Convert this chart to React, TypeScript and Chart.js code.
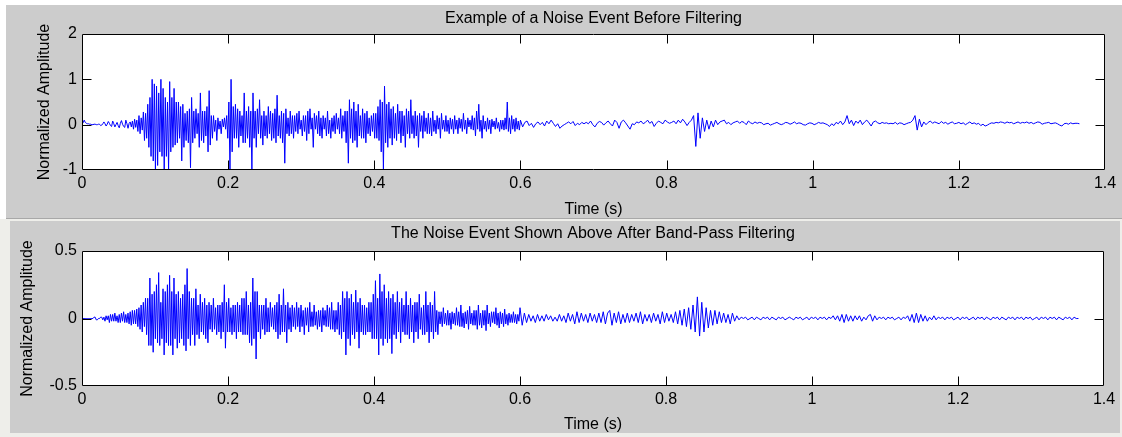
import React, { useEffect, useRef } from 'react';
import { Chart, registerables } from 'chart.js';

Chart.register(...registerables);

// The onset (0 - 0.6 s) is sampled finely, the quiet tail (0.6 s - end) more coarsely
const ONSET_INTERVAL = 0.0015;
const TAIL_START = 0.6;
const TAIL_INTERVAL = 0.003;

const X_TICK_VALUES = [0, 0.2, 0.4, 0.6, 0.8, 1, 1.2, 1.4];
const X_TICK_LABELS = ['0', '0.2', '0.4', '0.6', '0.8', '1', '1.2', '1.4'];
const RAW_Y_TICK_VALUES = [-1, 0, 1, 2];
const RAW_Y_TICK_LABELS = ['-1', '0', '1', '2'];
const FILT_Y_TICK_VALUES = [-0.5, 0, 0.5];
const FILT_Y_TICK_LABELS = ['-0.5', '0', '0.5'];

const RAW_TITLE = 'Example of a Noise Event Before Filtering';
const FILT_TITLE = 'The Noise Event Shown Above After Band-Pass Filtering';
const X_TITLE = 'Time (s)';
const Y_TITLE = 'Normalized Amplitude';

const RAW_ONSET = [
  0.05, 0.04, 0.1, 0.05, 0.03, 0.02, 0.02, 0.01, 0.01, 0.0, 0.0, 0.01, 0.01, 0.0, 0.0, 0.01, 0.01, -0.02, -0.01, 0.02,
  0.06, 0.02, -0.03, 0.01, 0.07, 0.03, -0.02, -0.04, 0.08, 0.02, -0.05, 0.0, 0.05, -0.02, -0.07, 0.03, 0.09, 0.01, -0.04, -0.06,
  0.1, 0.02, -0.08, 0.03, 0.06, -0.05, 0.08, -0.1, 0.12, -0.06, 0.1, -0.15, 0.2, -0.2, 0.15, -0.12, 0.28, -0.35, 0.25, -0.3,
  0.45, -0.5, 0.6, -0.7, 1.0, -0.8, 0.9, -1.0, 0.85, -0.9, 0.7, -0.6, 1.0, -0.7, 0.8, -1.0, 0.6, -0.7, 0.5, -1.0,
  0.95, -0.6, 0.6, -0.5, 0.8, -0.45, 0.5, -0.4, 0.5, -0.3, 0.4, -0.8, 0.45, -0.5, 0.25, -0.35, 0.3, -0.4, 0.35, -0.95,
  0.6, -0.4, 0.3, -0.3, 0.35, -0.2, 0.25, -0.5, 0.7, -0.35, 0.3, -0.4, 0.3, -0.25, 0.4, -0.6, 0.75, -0.45, 0.2, -0.3,
  0.2, -0.15, 0.1, -0.35, 0.15, -0.1, 0.08, -0.2, 0.12, -0.05, 0.15, -0.1, 0.2, -0.3, 0.5, -1.0, 1.0, -0.6, 0.4, -0.3,
  0.45, -0.3, 0.35, -0.5, 0.3, -0.25, 0.2, -0.4, 0.7, -0.4, 0.3, -0.3, 0.4, -0.5, 0.3, -1.0, 0.7, -0.3, 0.3, -0.5,
  0.35, -0.2, 0.55, -0.3, 0.2, -0.45, 0.3, -0.25, 0.2, -0.3, 0.4, -0.2, 0.3, -0.35, 0.25, -0.3, 0.35, -0.4, 0.65, -0.25,
  0.2, -0.3, 0.3, -0.4, 0.25, -0.85, 0.35, -0.2, 0.15, -0.25, 0.3, -0.2, 0.2, -0.3, 0.2, -0.15, 0.25, -0.2, 0.3, -0.1,
  0.1, -0.25, 0.2, -0.15, 0.2, -0.35, 0.3, -0.2, 0.35, -0.1, 0.15, -0.5, 0.25, -0.1, 0.2, -0.2, 0.3, -0.25, 0.15, -0.3,
  0.2, -0.1, 0.15, -0.25, 0.3, -0.2, 0.1, -0.3, 0.15, -0.15, 0.2, -0.2, 0.25, -0.1, 0.15, -0.2, 0.35, -0.3, 0.2, -0.15,
  0.3, -0.4, 0.3, -0.85, 0.55, -0.3, 0.35, -0.4, 0.5, -0.35, 0.3, -0.5, 0.45, -0.25, 0.2, -0.3, 0.35, -0.3, 0.25, -0.4,
  0.3, -0.2, 0.15, -0.25, 0.2, -0.15, 0.25, -0.3, 0.25, -0.3, 0.4, -0.35, 0.55, -0.6, 0.5, -1.0, 0.85, -0.4, 0.45, -0.5,
  0.5, -0.3, 0.35, -0.45, 0.4, -0.3, 0.25, -0.35, 0.45, -0.2, 0.3, -0.4, 0.3, -0.25, 0.2, -0.5, 0.35, -0.2, 0.3, -0.3,
  0.55, -0.2, 0.2, -0.3, 0.3, -0.25, 0.2, -0.5, 0.25, -0.15, 0.2, -0.3, 0.3, -0.15, 0.15, -0.2, 0.25, -0.2, 0.15, -0.25,
  0.3, -0.15, 0.1, -0.2, 0.2, -0.1, 0.15, -0.3, 0.25, -0.1, 0.1, -0.15, 0.2, -0.15, 0.1, -0.2, 0.15, -0.1, 0.12, -0.2,
  0.2, -0.1, 0.1, -0.2, 0.15, -0.08, 0.12, -0.15, 0.25, -0.1, 0.1, -0.2, 0.15, -0.05, 0.1, -0.1, 0.2, -0.12, 0.15, -0.25,
  0.3, -0.1, 0.45, -0.15, 0.1, -0.3, 0.2, -0.1, 0.08, -0.15, 0.15, -0.1, 0.1, -0.2, 0.12, -0.05, 0.08, -0.1, 0.15, -0.08,
  0.05, -0.15, 0.1, -0.1, 0.1, -0.12, 0.15, -0.1, 0.5, -0.15, 0.15, -0.2, 0.2, -0.1, 0.12, -0.15, 0.15, -0.1, 0.08, -0.12,
];

const RAW_TAIL = [
  0.1, -0.05, 0.05, 0.08, -0.02, 0.03, -0.06, 0.02, 0.06, 0.0,
  0.05, -0.03, 0.08, 0.02, 0.1, 0.03, -0.04, 0.02, -0.08, -0.03,
  0.0, 0.03, 0.06, 0.02, 0.07, -0.02, 0.03, 0.0, 0.05, 0.02,
  0.05, 0.02, 0.08, 0.0, -0.05, 0.03, 0.07, 0.05, -0.01, 0.04,
  0.08, 0.02, -0.03, 0.1, 0.05, -0.08, 0.06, 0.1, 0.04, -0.03,
  -0.1, 0.02, 0.0, 0.06, 0.04, 0.08, 0.02, 0.05, 0.1, 0.03,
  0.07, -0.04, 0.03, 0.08, 0.05, 0.02, 0.1, 0.06, 0.03, 0.05,
  0.08, 0.02, 0.1, 0.04, 0.12, 0.06, -0.02, 0.05, 0.1, 0.2,
  -0.48, 0.26, -0.3, 0.15, -0.15, 0.1, -0.1, 0.08, -0.05, 0.1,
  0.0, 0.06, 0.08, 0.1, 0.02, 0.05, 0.0, 0.04, 0.06, 0.08,
  0.03, 0.07, 0.05, 0.0, 0.08, 0.04, 0.02, 0.06, 0.03, 0.05,
  0.04, 0.0, 0.02, 0.03, -0.01, 0.01, 0.03, 0.05, 0.02, 0.0,
  0.02, 0.05, 0.04, 0.01, 0.03, 0.06, 0.02, 0.04, 0.03, 0.0,
  -0.01, 0.02, 0.04, 0.03, 0.0, 0.02, 0.05, 0.03, 0.04, 0.02,
  0.0, -0.04, 0.02, -0.02, 0.05, 0.02, 0.08, 0.0, 0.06, 0.2,
  0.02, 0.1, -0.02, 0.08, 0.03, 0.1, 0.0, 0.06, 0.1, 0.04,
  -0.03, 0.06, 0.08, 0.04, 0.02, 0.05, 0.03, 0.04, 0.02, 0.03,
  0.02, 0.05, 0.01, 0.04, 0.03, 0.0, 0.02, 0.04, 0.05, 0.1,
  0.2, -0.12, 0.12, -0.05, 0.06, 0.0, 0.05, 0.08, 0.03, 0.06,
  0.04, 0.02, 0.07, 0.03, 0.05, 0.01, 0.04, 0.06, 0.02, 0.03,
  0.05, 0.02, 0.04, 0.0, 0.03, 0.06, 0.02, 0.04, 0.01, 0.03,
  -0.02, 0.01, -0.03, -0.01, 0.02, 0.04, 0.03, 0.05, 0.04, 0.06,
  0.05, 0.03, 0.06, 0.04, 0.05, 0.02, 0.04, 0.06, 0.03, 0.05,
  0.04, 0.06, 0.03, 0.05, 0.02, 0.04, 0.06, 0.05, 0.01, 0.03,
  0.04, 0.05, 0.02, 0.03, 0.04, 0.02, -0.01, -0.03, 0.02, 0.03,
  0.01, 0.04, 0.02, 0.03, 0.03, 0.02,
];

const FILT_ONSET = [
  0, 0, 0, 0, 0, 0, 0, 0, 0, 0, 0, 0.01, 0.01, -0.01, -0.01, 0.0, 0.0, 0.01, 0.01, -0.01,
  0.01, -0.02, 0.02, -0.01, 0.02, -0.03, 0.03, -0.02, 0.03, -0.02, 0.04, -0.02, 0.02, -0.03, 0.03, -0.03, 0.04, -0.02, 0.05, -0.03,
  0.03, -0.03, 0.04, -0.04, 0.05, -0.05, 0.06, -0.04, 0.06, -0.04, 0.07, -0.06, 0.08, -0.08, 0.1, -0.1, 0.12, -0.06, 0.15, -0.12,
  0.15, -0.2, 0.3, -0.2, 0.18, -0.25, 0.2, -0.15, 0.25, -0.18, 0.34, -0.2, 0.12, -0.15, 0.22, -0.27, 0.2, -0.18, 0.25, -0.2,
  0.32, -0.2, 0.2, -0.27, 0.3, -0.15, 0.18, -0.22, 0.2, -0.18, 0.15, -0.15, 0.18, -0.2, 0.25, -0.24, 0.37, -0.15, 0.2, -0.2,
  0.15, -0.12, 0.15, -0.2, 0.22, -0.12, 0.1, -0.15, 0.18, -0.1, 0.12, -0.12, 0.15, -0.15, 0.1, -0.18, 0.12, -0.08, 0.1, -0.1,
  0.15, -0.08, 0.08, -0.12, 0.1, -0.1, 0.1, -0.15, 0.12, -0.1, 0.25, -0.22, 0.12, -0.1, 0.15, -0.1, 0.08, -0.12, 0.1, -0.1,
  0.1, -0.15, 0.12, -0.1, 0.1, -0.1, 0.15, -0.12, 0.15, -0.12, 0.2, -0.12, 0.1, -0.18, 0.12, -0.2, 0.3, -0.15, 0.2, -0.3,
  0.2, -0.1, 0.1, -0.15, 0.1, -0.08, 0.1, -0.12, 0.15, -0.1, 0.08, -0.1, 0.12, -0.06, 0.08, -0.08, 0.1, -0.1, 0.12, -0.15,
  0.18, -0.12, 0.1, -0.1, 0.22, -0.1, 0.1, -0.18, 0.12, -0.08, 0.08, -0.1, 0.1, -0.06, 0.08, -0.08, 0.12, -0.06, 0.08, -0.1,
  0.1, -0.06, 0.06, -0.12, 0.08, -0.05, 0.08, -0.1, 0.12, -0.06, 0.05, -0.06, 0.1, -0.05, 0.05, -0.08, 0.06, -0.06, 0.06, -0.1,
  0.08, -0.05, 0.06, -0.06, 0.1, -0.06, 0.08, -0.08, 0.12, -0.08, 0.06, -0.1, 0.06, -0.08, 0.12, -0.12, 0.1, -0.15, 0.2, -0.1,
  0.15, -0.27, 0.2, -0.15, 0.15, -0.2, 0.18, -0.12, 0.12, -0.15, 0.21, -0.1, 0.12, -0.22, 0.15, -0.1, 0.1, -0.12, 0.1, -0.12,
  0.08, -0.1, 0.12, -0.1, 0.12, -0.15, 0.18, -0.15, 0.28, -0.15, 0.15, -0.27, 0.33, -0.15, 0.2, -0.2, 0.25, -0.15, 0.15, -0.18,
  0.2, -0.15, 0.15, -0.26, 0.18, -0.12, 0.12, -0.15, 0.2, -0.1, 0.12, -0.18, 0.15, -0.1, 0.1, -0.12, 0.2, -0.12, 0.1, -0.15,
  0.15, -0.1, 0.1, -0.18, 0.12, -0.1, 0.12, -0.15, 0.18, -0.08, 0.08, -0.12, 0.1, -0.12, 0.2, -0.1, 0.1, -0.18, 0.12, -0.1,
  0.1, -0.15, 0.2, -0.1, 0.06, -0.12, 0.05, -0.04, 0.05, -0.06, 0.08, -0.04, 0.04, -0.05, 0.06, -0.05, 0.04, -0.08, 0.05, -0.04,
  0.04, -0.05, 0.08, -0.05, 0.05, -0.06, 0.1, -0.06, 0.04, -0.07, 0.05, -0.04, 0.06, -0.08, 0.09, -0.04, 0.04, -0.05, 0.06, -0.05,
  0.06, -0.08, 0.1, -0.05, 0.04, -0.07, 0.06, -0.05, 0.06, -0.09, 0.1, -0.04, 0.04, -0.06, 0.05, -0.03, 0.05, -0.04, 0.08, -0.05,
  0.04, -0.07, 0.05, -0.04, 0.04, -0.06, 0.07, -0.04, 0.03, -0.05, 0.04, -0.03, 0.03, -0.03, 0.05, -0.03, 0.03, -0.04, 0.03, -0.02,
];

const FILT_TAIL = [
  0.08, -0.05, 0.04, -0.03, 0.03, -0.02, 0.02, -0.03, 0.03, -0.02,
  0.02, -0.02, 0.03, -0.01, 0.02, -0.02, 0.01, -0.02, 0.03, -0.02,
  0.02, -0.03, 0.04, -0.02, 0.03, -0.04, 0.05, -0.03, 0.04, -0.02,
  0.03, -0.03, 0.04, -0.02, 0.03, -0.03, 0.04, -0.03, 0.05, -0.04,
  0.04, 0.06, -0.05, 0.04, -0.03, 0.05, -0.04, 0.03, -0.03, 0.04,
  -0.03, 0.03, -0.02, 0.04, -0.03, 0.05, -0.04, 0.03, -0.02, 0.03,
  -0.03, 0.04, -0.02, 0.03, -0.04, 0.05, -0.03, 0.04, -0.02, 0.03,
  -0.03, 0.05, -0.04, 0.06, -0.05, 0.07, -0.06, 0.08, -0.08, 0.1,
  -0.1, 0.16, -0.13, 0.12, -0.1, 0.08, -0.07, 0.06, -0.05, 0.06,
  -0.04, 0.05, -0.03, 0.04, -0.03, 0.03, -0.04, 0.04, -0.02, 0.02,
  -0.01, 0.01, 0.0, 0.01, -0.01, 0.0, 0.01, -0.01, 0.01, 0.0,
  -0.01, 0.01, 0.0, 0.01, -0.01, 0.01, 0.0, -0.01, 0.01, 0.0,
  0.01, -0.01, 0.0, 0.01, 0.0, -0.01, 0.01, 0.0, 0.01, -0.01,
  0.0, 0.01, -0.01, 0.01, 0.0, 0.01, -0.01, 0.01, 0.0, 0.01,
  -0.01, 0.01, 0.0, 0.02, -0.01, 0.02, -0.02, 0.03, -0.03, 0.03,
  -0.02, 0.02, -0.02, 0.02, -0.01, 0.02, -0.02, 0.01, -0.01, 0.02,
  0.03, -0.02, 0.02, -0.01, 0.01, 0.0, 0.01, -0.01, 0.01, 0.0,
  0.01, -0.01, 0.0, 0.01, -0.01, 0.01, 0.0, 0.02, -0.02, 0.03,
  -0.03, 0.04, -0.03, 0.03, -0.02, 0.02, -0.02, 0.01, -0.01, 0.02,
  -0.01, 0.01, 0.0, 0.01, -0.01, 0.01, 0.0, 0.01, -0.01, 0.0,
  0.01, -0.01, 0.01, 0.0, 0.01, -0.01, 0.0, 0.01, -0.01, 0.01,
  0.0, 0.01, -0.01, 0.01, 0.0, -0.01, 0.01, 0.0, 0.01, -0.01,
  0.01, 0.0, -0.01, 0.01, 0.0, 0.01, -0.01, 0.01, 0.0, 0.01,
  -0.01, 0.01, 0.0, 0.01, -0.01, 0.0, 0.01, -0.01, 0.01, 0.0,
  0.01, -0.01, 0.01, 0.0, 0.01, -0.01, 0.01, 0.0, -0.01, 0.01,
  0.0, 0.01, -0.01, 0.01, 0.0, 0.0,
];

const FONT_FAMILY = '"Liberation Sans", Arial, Helvetica, sans-serif';
const LINE_COLOR = '#0000ff';
const TICK_LEN = 9;

function toPoints(onset: number[], tail: number[]) {
  const pts = onset.map((v, i) => ({ x: i * ONSET_INTERVAL, y: v }));
  tail.forEach((v, i) => pts.push({ x: TAIL_START + i * TAIL_INTERVAL, y: v }));
  return pts;
}

const matlabAxes = {
  id: 'matlabAxes',
  beforeDatasetsDraw(chart: any) {
    const { ctx, chartArea } = chart;
    ctx.save();
    ctx.fillStyle = '#ffffff';
    ctx.fillRect(chartArea.left, chartArea.top, chartArea.right - chartArea.left, chartArea.bottom - chartArea.top);
    ctx.restore();
  },
  afterDatasetsDraw(chart: any) {
    const { ctx, chartArea, scales } = chart;
    const l = Math.round(chartArea.left) + 0.5;
    const r = Math.round(chartArea.right) - 0.5;
    const t = Math.round(chartArea.top) + 0.5;
    const b = Math.round(chartArea.bottom) - 0.5;
    ctx.save();
    ctx.strokeStyle = '#000000';
    ctx.lineWidth = 1;
    ctx.beginPath();
    ctx.rect(l, t, r - l, b - t);
    const xs = scales.x.ticks.map((tk: any) => tk.value);
    xs.slice(1, -1).forEach((v: number) => {
      const px = Math.round(scales.x.getPixelForValue(v)) + 0.5;
      ctx.moveTo(px, b);
      ctx.lineTo(px, b - TICK_LEN);
      ctx.moveTo(px, t);
      ctx.lineTo(px, t + TICK_LEN);
    });
    const ys = scales.y.ticks.map((tk: any) => tk.value);
    ys.slice(1, -1).forEach((v: number) => {
      const py = Math.round(scales.y.getPixelForValue(v)) + 0.5;
      ctx.moveTo(l, py);
      ctx.lineTo(l + TICK_LEN, py);
      ctx.moveTo(r, py);
      ctx.lineTo(r - TICK_LEN, py);
    });
    ctx.stroke();
    ctx.restore();
  },
};

type PanelCfg = {
  title: string;
  points: { x: number; y: number }[];
  yMin: number;
  yMax: number;
  yTicks: number[];
  yLabels: string[];
  titlePadTop: number;
  titlePadBottom: number;
  yTitlePad: number;
  xHeight: number;
  xTitlePadBottom: number;
  padRight: number;
};

function makeConfig(p: PanelCfg): any {
  const font = { family: FONT_FAMILY, size: 16, weight: 'normal' as const };
  return {
    type: 'line',
    data: {
      datasets: [
        {
          data: p.points,
          borderColor: LINE_COLOR,
          borderWidth: 1,
          pointRadius: 0,
          tension: 0,
          fill: false,
        },
      ],
    },
    options: {
      responsive: false,
      animation: false,
      devicePixelRatio: 1,
      layout: { padding: { left: 0, right: p.padRight, top: 0, bottom: 0 } },
      plugins: {
        legend: { display: false },
        tooltip: { enabled: false },
        title: {
          display: true,
          text: p.title,
          color: '#000',
          font,
          fullSize: false,
          padding: { top: p.titlePadTop, bottom: p.titlePadBottom },
        },
      },
      scales: {
        x: {
          type: 'linear',
          min: 0,
          max: 1.4,
          grid: { display: false, drawTicks: false },
          border: { display: false },
          afterBuildTicks: (scale: any) => {
            scale.ticks = X_TICK_VALUES.map((v) => ({ value: v }));
          },
          afterFit: (scale: any) => {
            scale.height = p.xHeight;
          },
          ticks: {
            color: '#000',
            font,
            padding: 4,
            maxRotation: 0,
            autoSkip: false,
            callback: (_v: any, i: number) => X_TICK_LABELS[i],
          },
          title: {
            display: true,
            text: X_TITLE,
            color: '#000',
            font,
            padding: { top: 0, bottom: p.xTitlePadBottom },
          },
        },
        y: {
          type: 'linear',
          min: p.yMin,
          max: p.yMax,
          grid: { display: false, drawTicks: false },
          border: { display: false },
          afterBuildTicks: (scale: any) => {
            scale.ticks = p.yTicks.map((v) => ({ value: v }));
          },
          afterFit: (scale: any) => {
            scale.width = 82;
          },
          ticks: {
            color: '#000',
            font,
            padding: 5,
            callback: (_v: any, i: number) => p.yLabels[i],
          },
          title: {
            display: true,
            text: Y_TITLE,
            color: '#000',
            font,
            padding: { top: p.yTitlePad, bottom: 0 },
          },
        },
      },
    },
    plugins: [matlabAxes],
  };
}

export default function App() {
  const topRef = useRef<HTMLCanvasElement | null>(null);
  const botRef = useRef<HTMLCanvasElement | null>(null);

  useEffect(() => {
    const c1 = new Chart(
      topRef.current as HTMLCanvasElement,
      makeConfig({
        title: RAW_TITLE,
        points: toPoints(RAW_ONSET, RAW_TAIL),
        yMin: -1,
        yMax: 2,
        yTicks: RAW_Y_TICK_VALUES,
        yLabels: RAW_Y_TICK_LABELS,
        titlePadTop: 9.4,
        titlePadBottom: 5.4,
        yTitlePad: 35.4,
        xHeight: 49,
        xTitlePadBottom: 0,
        padRight: 17,
      })
    );
    const c2 = new Chart(
      botRef.current as HTMLCanvasElement,
      makeConfig({
        title: FILT_TITLE,
        points: toPoints(FILT_ONSET, FILT_TAIL),
        yMin: -0.5,
        yMax: 0.5,
        yTicks: FILT_Y_TICK_VALUES,
        yLabels: FILT_Y_TICK_LABELS,
        titlePadTop: 5.4,
        titlePadBottom: 7.4,
        yTitlePad: 18.4,
        xHeight: 51,
        xTitlePadBottom: 2.4,
        padRight: 18,
      })
    );
    return () => {
      c1.destroy();
      c2.destroy();
    };
  }, []);

  return (
    <div
      style={{
        position: 'fixed',
        left: 0,
        top: 0,
        width: 1122,
        height: 437,
        background: '#ffffff',
        overflow: 'hidden',
      }}
    >
      <div style={{ position: 'absolute', left: 6, top: 5, width: 1116, height: 213, background: '#cccccc', borderBottom: '1px solid #a8a8a8' }} />
      <div style={{ position: 'absolute', left: 0, top: 219, width: 1122, height: 218, background: '#eeeeea' }} />
      <div style={{ position: 'absolute', left: 10, top: 221, width: 1110, height: 212, background: '#cccccc' }} />
      <canvas ref={topRef} width={1122} height={219} style={{ position: 'absolute', left: 0, top: 0, width: 1122, height: 219 }} />
      <canvas ref={botRef} width={1122} height={218} style={{ position: 'absolute', left: 0, top: 219, width: 1122, height: 218 }} />
    </div>
  );
}
